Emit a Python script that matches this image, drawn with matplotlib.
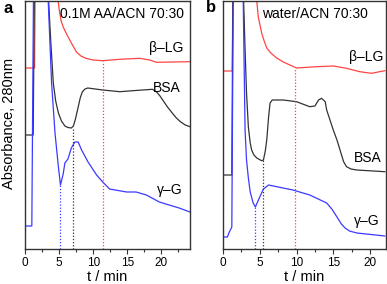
import matplotlib
matplotlib.use("Agg")
import matplotlib.pyplot as plt
from matplotlib.ticker import MultipleLocator

plt.rcParams['font.family'] = ['Liberation Sans', 'DejaVu Sans']

# ---------------- Panel a : 0.1M AA/ACN 70:30 ----------------
a_lg_t = [0, 1.4, 1.7, 3.5, 4.85, 5.0, 5.3, 5.6, 6.1, 6.8, 7.55, 8.2, 9.0, 10, 11.4, 13.9, 16.8, 18.3, 19.3, 24.2]
a_lg_y = [181, 181, 449, 349, 249, 240, 228, 222, 215, 206, 197, 193, 190.5, 189, 188.3, 189.7, 190.7, 189, 186.7, 187.3]

a_bsa_t = [0, 1.2, 1.6, 3.45, 3.8, 4.15, 4.5, 4.9, 5.35, 5.85, 6.3, 6.8, 7.1, 7.4, 7.8, 8.1, 8.4, 8.8, 9.2,
           11.4, 13.9, 15.8, 18.7, 19.3, 19.8, 20.2, 20.9, 21.6, 22.2, 22.8, 23.5, 24.2]
a_bsa_y = [114, 114, 449, 249, 205, 166, 148, 136, 128, 123, 121.5, 121, 123, 130, 142, 151, 157, 160, 161,
           159, 157.3, 158.3, 159.7, 157, 153, 149, 142, 136, 131, 127.3, 124, 122.3]

a_g_t = [0, 1.0, 1.45, 3.4, 3.9, 4.4, 4.9, 5.2, 5.6, 5.85, 6.3, 6.8, 7.3, 7.8, 8.3, 9.25, 10.5, 11.4, 12.4, 14.9, 16.3, 17.8, 19.7, 22.6, 24.2]
a_g_y = [23, 23, 449, 249, 166, 116, 82, 64, 75, 86, 90, 101, 107, 107, 99, 87, 74, 67, 60, 57, 57, 54, 47, 41, 37]

# dotted markers: (time, height of curve)
a_marks_t = [5.15, 7.0, 11.4]
a_marks_y = [64, 121, 188]

# ---------------- Panel b : water/ACN 70:30 ----------------
b_lg_t = [0, 1.25, 1.6, 3.5, 4.58, 4.8, 5.26, 5.6, 5.95, 6.5, 7.3, 8.2, 9.1, 10.0, 12.7, 15, 16.8, 18.6, 20.2, 22]
b_lg_y = [178, 178, 449, 349, 249, 232, 216, 208, 201, 196, 191, 187, 184, 181, 182.3, 183, 180.7, 177.3, 175.7, 178.3]

b_bsa_t = [0, 1.2, 1.5, 2.8, 3.0, 3.2, 3.45, 3.7, 3.9, 4.2, 4.6, 5.25, 5.5, 5.75, 5.95, 6.2, 6.4, 6.7, 8.2, 10, 11.8,
           12.5, 13, 13.4, 13.9, 14.1, 14.55, 15.0, 15.5, 16.0, 16.4, 16.8, 17.4, 18.2, 22]
b_bsa_y = [74, 74, 449, 249, 200, 156, 122, 106, 99, 94, 91, 88.3, 89, 98, 109, 132, 146, 149, 149, 147.3, 142.3,
           143, 149, 150.7, 147.3, 139, 129, 119, 109, 97, 87.3, 82.3, 80, 79, 77.3]

b_g_t = [0, 0.6, 0.8, 1.2, 1.55, 2.75, 3.0, 3.2, 3.45, 3.7, 4.1, 4.4, 5.0, 5.5, 6.2, 7.5, 9.5, 11.8, 14.1, 14.8, 15.5, 16.1, 16.6, 17.2, 18.2, 22]
b_g_y = [12, 12, 16, 22, 449, 249, 119, 89, 71, 57, 46, 42, 52, 60, 64, 62, 59, 54, 46, 40, 32, 25, 21, 18, 16, 13]

b_marks_t = [4.4, 5.4, 9.8]
b_marks_y = [42, 89, 181]

RED = '#ff4444'
BLACK = '#333333'
BLUE = '#3a3aff'
mark_colors = [BLUE, BLACK, RED]

fig = plt.figure(figsize=(3.87, 2.84), dpi=100)
axa = fig.add_axes([25/387, 35/284, 165/387, 248/284])
axb = fig.add_axes([223/387, 35/284, 162.5/387, 248/284])


def style(ax, xmax):
    ax.set_xlim(0, xmax)
    ax.set_ylim(0, 248)
    ax.set_yticks([])
    ax.xaxis.set_major_locator(MultipleLocator(5))
    ax.xaxis.set_minor_locator(MultipleLocator(2.5))
    ax.tick_params(axis='x', which='major', direction='out', length=3.5, width=0.8,
                   labelsize=8.5, pad=2, colors=BLACK, labelcolor='black')
    ax.tick_params(axis='x', which='minor', direction='out', length=2.5, width=0.8, colors=BLACK)
    for s in ax.spines.values():
        s.set_color(BLACK)
        s.set_linewidth(1.0)
    ax.set_xlabel('t / min', fontsize=10.5, labelpad=1)


for ax, xmax, series, mt, my in [
    (axa, 24.2, [(a_lg_t, a_lg_y, RED), (a_bsa_t, a_bsa_y, BLACK), (a_g_t, a_g_y, BLUE)], a_marks_t, a_marks_y),
    (axb, 22.1, [(b_lg_t, b_lg_y, RED), (b_bsa_t, b_bsa_y, BLACK), (b_g_t, b_g_y, BLUE)], b_marks_t, b_marks_y),
]:
    for t, y, c in series:
        ax.plot(t, y, color=c, lw=0.9)
    for t, y, c in zip(mt, my, mark_colors):
        ax.plot([t, t], [0, y], color=c, lw=0.9, ls=(0, (1, 1.5)))
    style(ax, xmax)

fs = 10
axa.text(0.588, 0.948, '0.1M AA/ACN 70:30', transform=axa.transAxes, ha='center', va='center', fontsize=fs)
axa.text(0.958, 0.81, 'β–LG', transform=axa.transAxes, ha='right', va='center', fontsize=fs)
axa.text(0.945, 0.649, 'BSA', transform=axa.transAxes, ha='right', va='center', fontsize=fs)
axa.text(0.958, 0.238, 'γ–G', transform=axa.transAxes, ha='right', va='center', fontsize=fs)

axb.text(0.566, 0.948, 'water/ACN 70:30', transform=axb.transAxes, ha='center', va='center', fontsize=fs)
axb.text(0.985, 0.774, 'β–LG', transform=axb.transAxes, ha='right', va='center', fontsize=fs)
axb.text(0.978, 0.367, 'BSA', transform=axb.transAxes, ha='right', va='center', fontsize=fs)
axb.text(0.966, 0.113, 'γ–G', transform=axb.transAxes, ha='right', va='center', fontsize=fs)

fig.text(4/387, 1 - 1/284, 'a', fontsize=12, fontweight='bold', ha='left', va='top')
fig.text(206/387, 1 - 0/284, 'b', fontsize=12, fontweight='bold', ha='left', va='top')
fig.text(9/387, 1 - 123/284, 'Absorbance, 280nm', rotation=90, fontsize=10.5, ha='center', va='center')

fig.savefig('out.png', dpi=100)
